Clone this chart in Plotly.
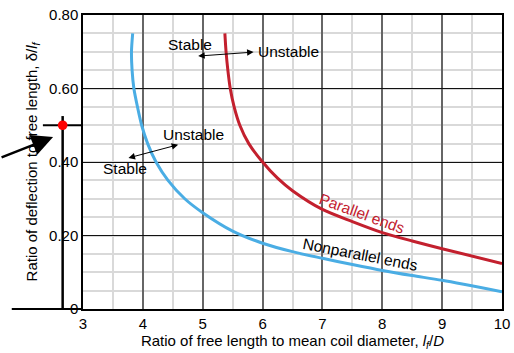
import plotly.graph_objects as go

# ---- data ----
nonparallel_x = [3.83, 3.81, 3.82, 3.85, 3.91, 3.98, 4.08, 4.22, 4.42, 4.70, 5.0, 5.5, 6.0, 6.5, 7.0, 7.5, 8.0, 8.5, 9.0, 10.0]
nonparallel_y = [0.75, 0.70, 0.65, 0.60, 0.55, 0.50, 0.45, 0.40, 0.35, 0.30, 0.262, 0.212, 0.179, 0.156, 0.138, 0.121, 0.105, 0.091, 0.078, 0.047]

parallel_x = [5.37, 5.39, 5.42, 5.46, 5.525, 5.62, 5.77, 6.0, 6.25, 6.5, 7.0, 7.5, 8.0, 8.5, 9.0, 10.0]
parallel_y = [0.75, 0.70, 0.65, 0.60, 0.55, 0.50, 0.45, 0.40, 0.356, 0.322, 0.271, 0.238, 0.208, 0.185, 0.164, 0.124]

x_ticks = [3, 4, 5, 6, 7, 8, 9, 10]
y_tickvals = [0, 0.2, 0.4, 0.6, 0.8]
y_ticktext = ["0", "0.20", "0.40", "0.60", "0.80"]

point_x = [2.66]
point_y = [0.5]

BLUE = "#4aade4"
RED = "#c3202e"
FONT = "Liberation Sans, Arial, Helvetica, sans-serif"

X0, X1 = 3, 10
Y0, Y1 = 0, 0.8
W, H = 514, 353
ML, MR, MT, MB = 83, 12, 15, 44
PW, PH = W - ML - MR, H - MT - MB


def px(x):
    return (x - X0) / (X1 - X0)


def py(y):
    return (y - Y0) / (Y1 - Y0)


fig = go.Figure()
fig.add_trace(go.Scatter(x=nonparallel_x, y=nonparallel_y, mode="lines",
                         line=dict(color=BLUE, width=3, shape="spline", smoothing=0.8),
                         showlegend=False, hoverinfo="skip"))
fig.add_trace(go.Scatter(x=parallel_x, y=parallel_y, mode="lines",
                         line=dict(color=RED, width=3, shape="spline", smoothing=0.8),
                         showlegend=False, hoverinfo="skip"))

r = 4.8  # dot radius in px
shapes = [
    dict(type="line", xref="paper", yref="paper", x0=px(point_x[0]), x1=px(point_x[0]),
         y0=py(0), y1=py(0.525), line=dict(color="black", width=2.5)),
    dict(type="line", xref="paper", yref="paper", x0=px(2.33), x1=px(3.0),
         y0=py(0.5), y1=py(0.5), line=dict(color="black", width=2)),
    dict(type="line", xref="paper", yref="paper", x0=px(1.81), x1=px(3.0),
         y0=py(0), y1=py(0), line=dict(color="black", width=2)),
    dict(type="circle", xref="paper", yref="paper",
         x0=px(point_x[0]) - r / PW, x1=px(point_x[0]) + r / PW,
         y0=py(point_y[0]) - r / PH, y1=py(point_y[0]) + r / PH,
         fillcolor="#ff0000", line=dict(width=0)),
]

tf = dict(family=FONT, size=15.5, color="black")
annotations = [
    dict(x=4.79, y=0.72, text="Stable", showarrow=False, font=tf),
    dict(x=5.89, y=0.701, text="Unstable", showarrow=False, font=tf, xanchor="left"),
    dict(x=4.84, y=0.475, text="Unstable", showarrow=False, font=tf),
    dict(x=3.70, y=0.381, text="Stable", showarrow=False, font=tf),
    dict(x=7.66, y=0.259, text="Parallel ends", showarrow=False, textangle=20,
         font=dict(family=FONT, size=15.5, color=RED)),
    dict(x=7.64, y=0.147, text="Nonparallel ends", showarrow=False, textangle=11, font=tf),
    # double-headed arrows
    dict(x=5.85, y=0.699, ax=4.90, ay=0.688, axref="x", ayref="y", text="",
         showarrow=True, arrowside="end+start", arrowhead=2, arrowsize=1.3,
         arrowwidth=1, arrowcolor="black"),
    dict(x=4.59, y=0.447, ax=3.735, ay=0.41, axref="x", ayref="y", text="",
         showarrow=True, arrowside="end+start", arrowhead=2, arrowsize=1.3,
         arrowwidth=1, arrowcolor="black"),
    # big pointer arrow
    dict(x=px(2.50), y=py(0.468), xref="paper", yref="paper", ax=-53, ay=21, text="",
         showarrow=True, arrowhead=2, arrowsize=1.7, arrowwidth=2.5, arrowcolor="black"),
]

fig.update_layout(
    width=W, height=H,
    margin=dict(l=ML, r=MR, t=MT, b=MB),
    paper_bgcolor="white", plot_bgcolor="white",
    font=dict(family=FONT, size=15, color="black"),
    shapes=shapes, annotations=annotations,
    xaxis=dict(range=[X0, X1], tickvals=x_ticks, showline=True, linecolor="black",
               linewidth=1.5, mirror=True, ticks="", showgrid=True, gridcolor="#666666",
               gridwidth=1.5, zeroline=False, automargin=False,
               minor=dict(dtick=0.5, tick0=3, showgrid=True, gridcolor="#d9d9d9", gridwidth=2),
               title=dict(text="Ratio of free length to mean coil diameter, <i>l<sub>f</sub></i>/<i>D</i>",
                          font=dict(family=FONT, size=15), standoff=4),
               tickfont=dict(family=FONT, size=15)),
    yaxis=dict(range=[Y0, Y1], tickvals=y_tickvals, ticktext=y_ticktext, showline=True,
               linecolor="black", linewidth=1.5, mirror=True, ticks="", showgrid=True,
               gridcolor="#111111", gridwidth=1.2, zeroline=False, automargin=False,
               minor=dict(dtick=0.05, tick0=0, showgrid=True, gridcolor="#d9d9d9", gridwidth=2),
               title=dict(text="Ratio of deflection to free length, δ/<i>l<sub>f</sub></i>",
                          font=dict(family=FONT, size=15), standoff=8),
               tickfont=dict(family=FONT, size=15)),
)

fig.write_html("out.html")
